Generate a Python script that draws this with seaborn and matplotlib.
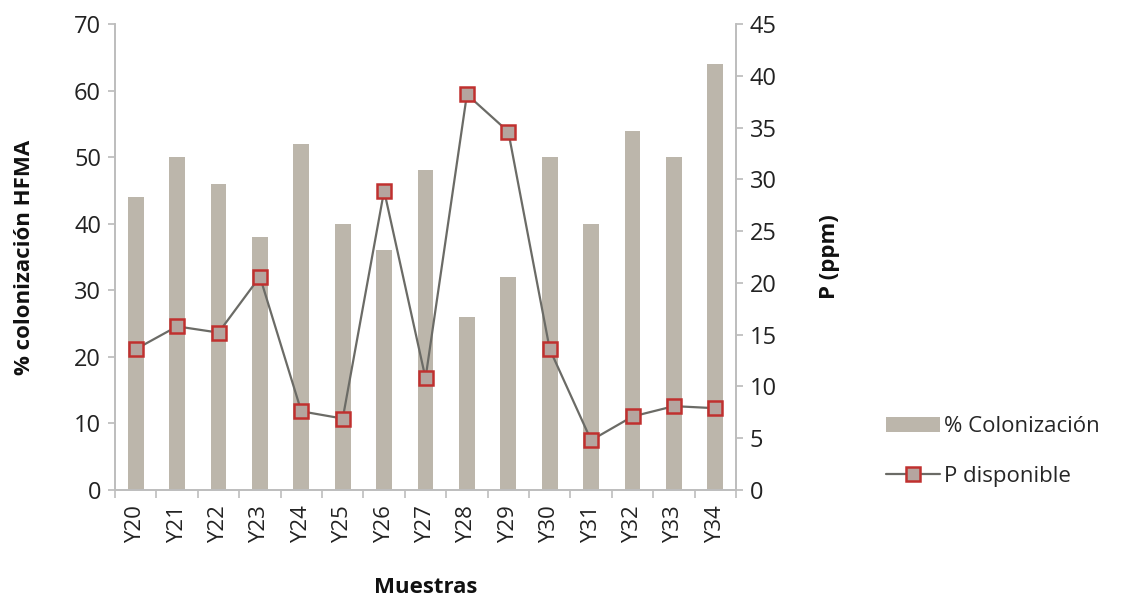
import matplotlib
matplotlib.use("Agg")
import matplotlib.pyplot as plt
import seaborn as sns
import numpy as np
from matplotlib.patches import Patch
from matplotlib.lines import Line2D
from matplotlib.ticker import FixedLocator

muestras = ["Y20", "Y21", "Y22", "Y23", "Y24", "Y25", "Y26", "Y27",
            "Y28", "Y29", "Y30", "Y31", "Y32", "Y33", "Y34"]
colonizacion = [44, 50, 46, 38, 52, 40, 36, 48, 26, 32, 50, 40, 54, 50, 64]
p_disponible = [13.6, 15.8, 15.2, 20.6, 7.6, 6.9, 28.9, 10.8,
                38.2, 34.6, 13.6, 4.8, 7.1, 8.1, 7.9]

sns.set_theme(style="white")
plt.rcParams["font.family"] = ["Open Sans", "DejaVu Sans"]

fig = plt.figure(figsize=(11.22, 6.0), dpi=100)
ax = fig.add_axes([0.1025, 0.1833, 0.5535, 0.7767])

bar_color = "#bcb6ab"
sns.barplot(x=muestras, y=colonizacion, ax=ax, color=bar_color,
            width=0.38, saturation=1, edgecolor="none")
ax.set_ylim(0, 70)
ax.set_yticks(range(0, 71, 10))
ax.set_xlim(-0.5, len(muestras) - 0.5)

ax2 = ax.twinx()
sns.pointplot(x=muestras, y=p_disponible, ax=ax2, color="#6b6b66",
              markers="s", linestyles="-", markersize=10,
              markerfacecolor="#b5a59f", markeredgecolor="#c0302f",
              markeredgewidth=1.8, linewidth=1.6)
ax2.set_ylim(0, 45)
ax2.set_yticks(range(0, 46, 5))
ax2.set_xlim(-0.5, len(muestras) - 0.5)

spine_col = "#bdbdbd"
for a in (ax, ax2):
    a.spines["top"].set_visible(False)
    for s in ("left", "right", "bottom"):
        a.spines[s].set_color(spine_col)
        a.spines[s].set_linewidth(1.2)
    a.grid(False)

txt = "#222222"
ax.tick_params(axis="y", which="major", left=True, length=5, color=spine_col,
               labelsize=17, labelcolor=txt, pad=5)
ax2.tick_params(axis="y", which="major", right=True, length=5, color=spine_col,
                labelsize=17, labelcolor=txt, pad=5)

ax.set_xticks(range(len(muestras)))
ax.set_xticklabels(muestras, rotation=90, fontsize=16, color=txt)
ax.tick_params(axis="x", which="major", length=0, pad=11)
ax.xaxis.set_minor_locator(FixedLocator(np.arange(-0.5, len(muestras), 1.0)))
ax.tick_params(axis="x", which="minor", bottom=True, length=6, color=spine_col, width=1.2)
ax2.tick_params(axis="x", which="both", bottom=False, top=False, labelbottom=False)
ax2.set_xlabel("")

ax.set_xlabel("Muestras", fontsize=16, fontweight="bold", labelpad=24, color="#111111")
ax.set_ylabel("% colonización HFMA", fontsize=16, fontweight="bold", labelpad=28, color="#111111")
ax2.set_ylabel("P (ppm)", fontsize=16, fontweight="bold", labelpad=30, color="#111111")

handles = [
    Patch(facecolor=bar_color, edgecolor="none", label="% Colonización"),
    Line2D([0], [0], color="#6b6b66", linewidth=1.6, marker="s", markersize=10,
           markerfacecolor="#b5a59f", markeredgecolor="#c0302f", markeredgewidth=1.8,
           label="P disponible"),
]
fig.legend(handles=handles, loc="center left", bbox_to_anchor=(0.772, 0.247),
           frameon=False, fontsize=16, handlelength=2.4, handletextpad=0.2,
           labelspacing=1.3)

fig.savefig("out.png", dpi=100)
